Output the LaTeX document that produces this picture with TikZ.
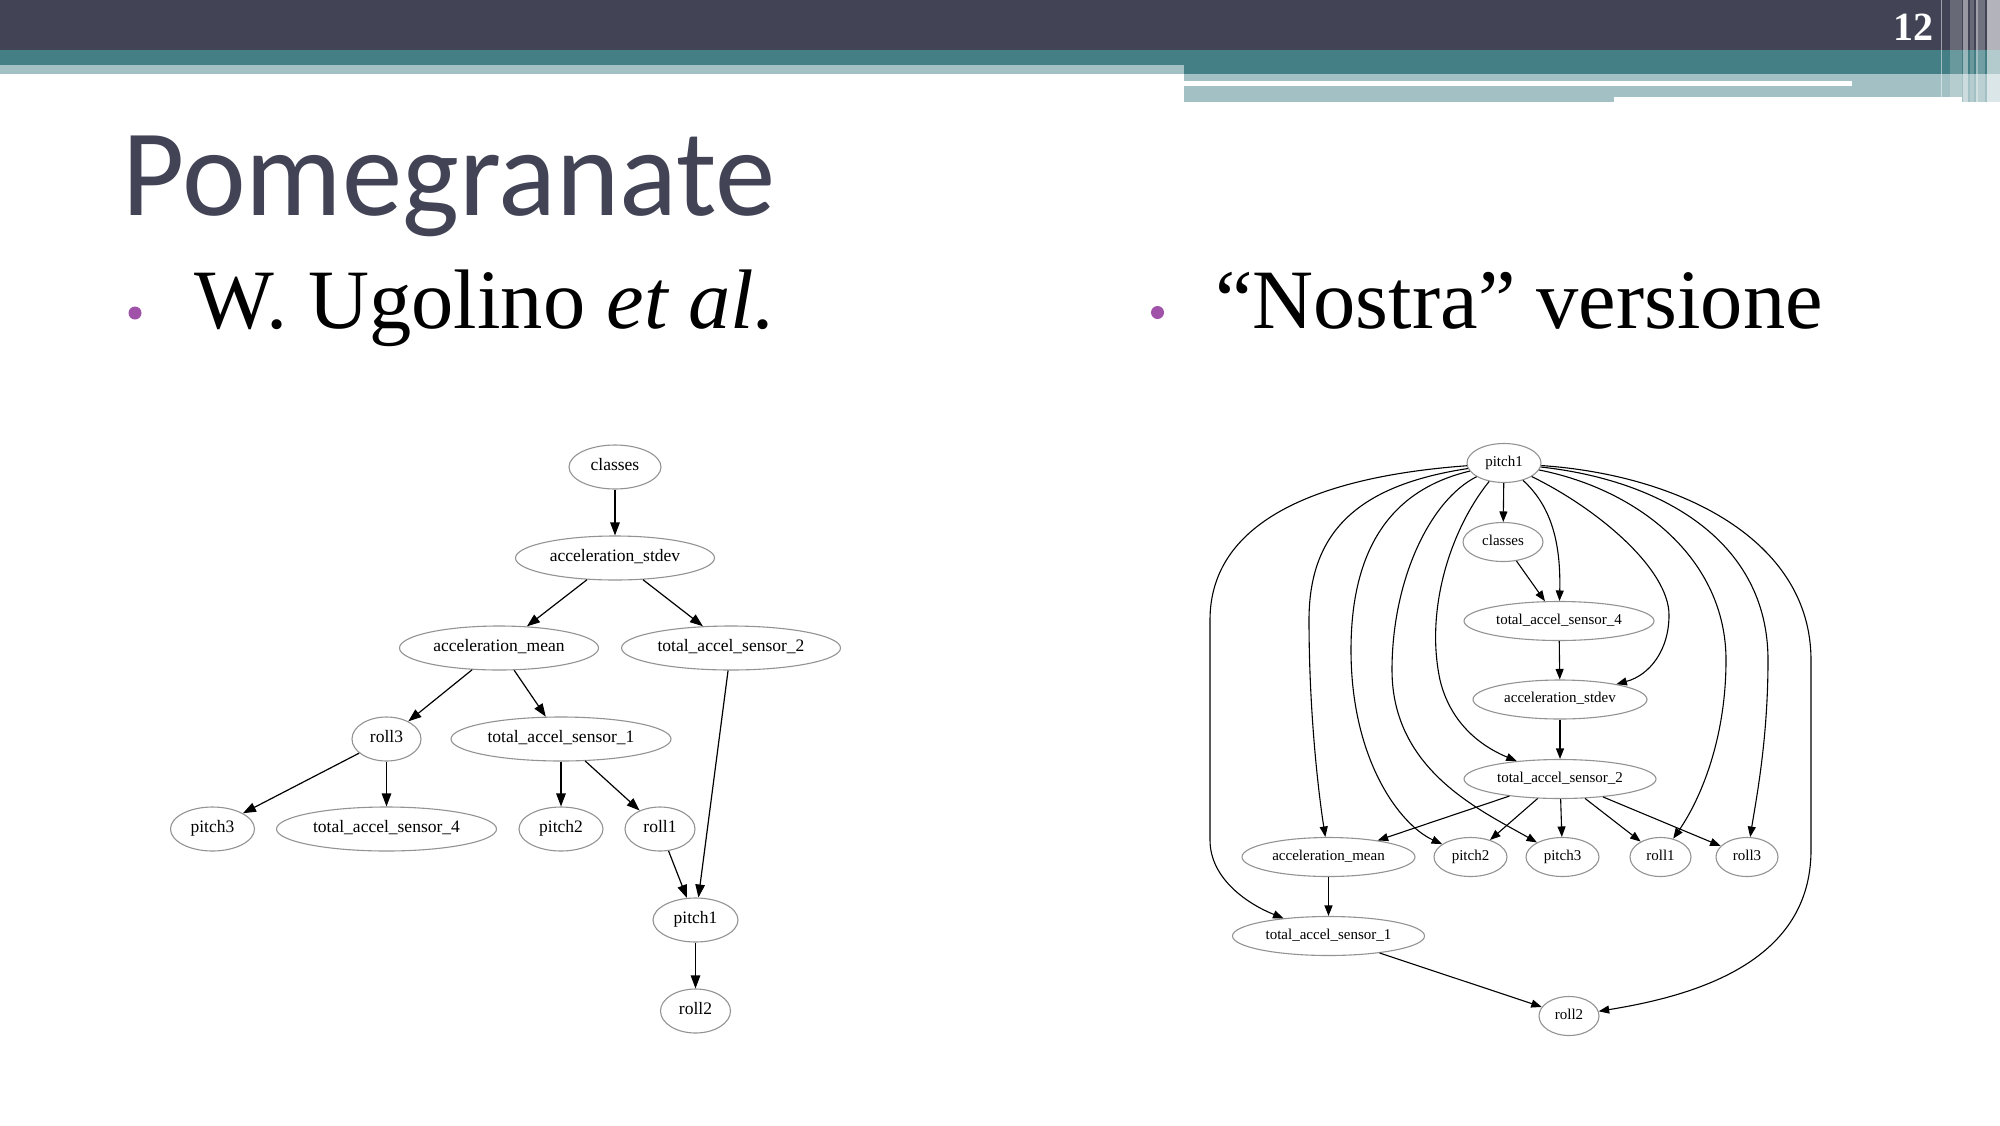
\documentclass[tikz,border=0pt]{standalone}
\usepackage{fontspec}
\setmainfont{Liberation Serif}
\newfontfamily\titlefont{Carlito}
\usetikzlibrary{shapes.geometric,arrows.meta}
\definecolor{slate}{HTML}{424456}
\definecolor{tealA}{HTML}{447F85}
\definecolor{tealB}{HTML}{A3C1C4}
\definecolor{bulletc}{HTML}{A052A8}
\newcommand{\zb}[1]{\makebox[0pt]{#1}}
\begin{document}
\begin{tikzpicture}[x=1pt,y=-1pt,
  gvl/.style={ellipse, draw=gray!85, line width=1.1pt, inner sep=0pt, minimum height=44pt, text height=0.66em, text depth=0pt, font=\fontsize{17.5}{20}\selectfont},
  gvr/.style={ellipse, draw=gray!85, line width=1.1pt, inner sep=0pt, minimum height=39pt, text height=0.66em, text depth=0pt, font=\fontsize{15}{18}\selectfont},
  edl/.style={draw=black, line width=1.2pt, -{Triangle[length=13pt,width=9.5pt]}},
  edr/.style={draw=black, line width=1.1pt, -{Triangle[length=10.5pt,width=8pt]}},
  bul/.style={circle, fill=bulletc, minimum size=13pt, inner sep=0pt},
  bodytext/.style={anchor=base west, inner sep=0pt, font=\fontsize{84.5}{90}\selectfont},
]
\useasboundingbox (0,0) rectangle (2000,1125);
\fill[white] (0,0) rectangle (2000,1125);
% header bars
\fill[slate] (0,0) rectangle (2000,50);
\fill[tealA] (0,50) rectangle (2000,65);
\fill[tealB] (0,65) rectangle (1184,74);
\fill[tealA] (1184,65) rectangle (2000,74);
\fill[tealB] (1184,74) rectangle (2000,81.3);
\fill[tealB] (1852,81.3) rectangle (2000,86);
\fill[tealB] (1184,86) rectangle (1614,102);
\fill[tealB] (1614,86) rectangle (2000,97);
\fill[tealB] (1962,97) rectangle (2000,102);
% right stripes
\fill[white,opacity=0.5] (1940.7,0) rectangle (1942,97);
\fill[white,opacity=0.2] (1950,0) rectangle (1961.7,97);
\fill[white,opacity=0.45] (1962.7,0) rectangle (1968.3,102);
\fill[white,opacity=0.2] (1970,0) rectangle (1974,102);
\fill[white,opacity=0.5] (1976,0) rectangle (1978.3,102);
\fill[white,opacity=0.25] (1978.3,0) rectangle (1985,102);
\fill[white,opacity=0.6] (1987.3,0) rectangle (2000,102);
\node[anchor=base east, text=white, inner sep=0pt, font=\bfseries\fontsize{40}{40}\selectfont] (pg) at (1934,40) {12};
% title and bullets
\node[anchor=base west, inner sep=0pt, text=slate, font=\titlefont\fontsize{124}{124}\selectfont] (title) at (122,215) {\scalebox{0.973}[1]{Pomegranate}};
\node[bul] (b1) at (135,313) {};
\node[bul] (b2) at (1157.5,312.5) {};
\node[bodytext] (txl) at (194,328) {W. Ugolino \textit{et al.}};
\node[bodytext] (txr) at (1215,328) {“Nostra” versione};
% left graph
\node[gvl, minimum width=92pt] (lcl) at (615,467) {\zb{classes}};
\node[gvl, minimum width=199pt] (lsd) at (615,558) {\zb{acceleration\_stdev}};
\node[gvl, minimum width=199pt] (lam) at (499,648) {\zb{acceleration\_mean}};
\node[gvl, minimum width=219pt] (lt2) at (731,648) {\zb{total\_accel\_sensor\_2}};
\node[gvl, minimum width=69pt] (lr3) at (386.5,739) {\zb{roll3}};
\node[gvl, minimum width=220pt] (lt1) at (561,739) {\zb{total\_accel\_sensor\_1}};
\node[gvl, minimum width=84pt] (lp3) at (212.5,829) {\zb{pitch3}};
\node[gvl, minimum width=220pt] (lt4) at (386.5,829) {\zb{total\_accel\_sensor\_4}};
\node[gvl, minimum width=84pt] (lp2) at (561,829) {\zb{pitch2}};
\node[gvl, minimum width=70pt] (lr1) at (660,829) {\zb{roll1}};
\node[gvl, minimum width=85pt] (lp1) at (695.5,920) {\zb{pitch1}};
\node[gvl, minimum width=70pt] (lr2) at (695.5,1011) {\zb{roll2}};
\draw[edl] (lcl) -- (lsd);
\draw[edl] (lsd) -- (lam);
\draw[edl] (lsd) -- (lt2);
\draw[edl] (lam) -- (lr3);
\draw[edl] (lam) -- (lt1);
\draw[edl] (lr3) -- (lp3);
\draw[edl] (lr3) -- (lt4);
\draw[edl] (lt1) -- (lp2);
\draw[edl] (lt1) -- (lr1);
\draw[edl] (lr1) -- (lp1);
\draw[edl] (lt2) -- (lp1);
\draw[edl] (lp1) -- (lr2);
% right graph
\node[gvr, minimum width=74pt] (rp1) at (1504,463) {\zb{pitch1}};
\node[gvr, minimum width=80pt] (rcl) at (1503,542) {\zb{classes}};
\node[gvr, minimum width=190pt] (rt4) at (1559,621) {\zb{total\_accel\_sensor\_4}};
\node[gvr, minimum width=174pt] (rsd) at (1560,699.5) {\zb{acceleration\_stdev}};
\node[gvr, minimum width=192pt] (rt2) at (1560,779) {\zb{total\_accel\_sensor\_2}};
\node[gvr, minimum width=173pt] (ram) at (1328.5,857) {\zb{acceleration\_mean}};
\node[gvr, minimum width=73pt] (rp2) at (1470.5,857) {\zb{pitch2}};
\node[gvr, minimum width=73pt] (rp3) at (1562.5,857) {\zb{pitch3}};
\node[gvr, minimum width=61pt] (rr1) at (1660.5,857) {\zb{roll1}};
\node[gvr, minimum width=62pt] (rr3) at (1747,857) {\zb{roll3}};
\node[gvr, minimum width=192pt] (rt1) at (1328.5,936) {\zb{total\_accel\_sensor\_1}};
\node[gvr, minimum width=60pt] (rr2) at (1569,1016) {\zb{roll2}};
\draw[edr] (rp1) .. controls (1300,478) and (1210,530) .. (1210,620) -- (1210,840) .. controls (1210,880) and (1250,905) .. (rt1);
\draw[edr] (rp1) .. controls (1360,485) and (1309,530) .. (1309,620) .. controls (1309,710) and (1318,790) .. (ram);
\draw[edr] (rp1) .. controls (1390,490) and (1351,550) .. (1351,650) .. controls (1351,760) and (1400,825) .. (rp2);
\draw[edr] (rp1) .. controls (1430,500) and (1392,580) .. (1392,670) .. controls (1392,770) and (1480,810) .. (rp3);
\draw[edr] (rp1) .. controls (1450,530) and (1425,610) .. (1440,680) .. controls (1452,730) and (1490,750) .. (rt2);
\draw[edr] (rp1) -- (rcl);
\draw[edr] (rp1) .. controls (1550,505) and (1561,540) .. (rt4);
\draw[edr] (rp1) .. controls (1600,510) and (1669,570) .. (1669,615) .. controls (1669,650) and (1650,675) .. (rsd);
\draw[edr] (rp1) .. controls (1640,490) and (1726,560) .. (1726,660) .. controls (1726,740) and (1700,800) .. (rr1);
\draw[edr] (rp1) .. controls (1660,480) and (1768,540) .. (1768,660) .. controls (1768,740) and (1756,800) .. (rr3);
\draw[edr] (rp1) .. controls (1680,475) and (1811,540) .. (1811,660) -- (1811,850) .. controls (1811,960) and (1700,995) .. (rr2);
\draw[edr] (rcl) -- (rt4);
\draw[edr] (rt4) -- (rsd);
\draw[edr] (rsd) -- (rt2);
\draw[edr] (rt2) -- (ram);
\draw[edr] (rt2) -- (rp2);
\draw[edr] (rt2) -- (rp3);
\draw[edr] (rt2) -- (rr1);
\draw[edr] (rt2) -- (rr3);
\draw[edr] (ram) -- (rt1);
\draw[edr] (rt1) -- (rr2);
\end{tikzpicture}
\end{document}
